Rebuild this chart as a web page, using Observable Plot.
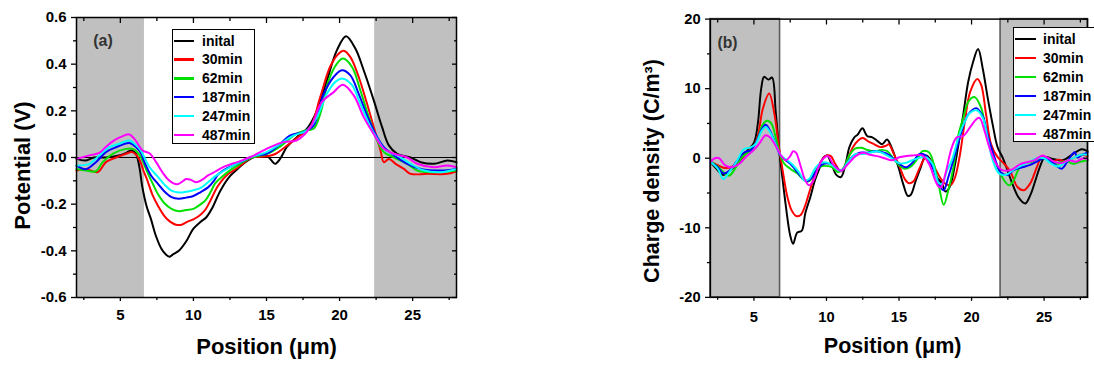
<!DOCTYPE html>
<html><head><meta charset="utf-8">
<script src="https://cdn.jsdelivr.net/npm/d3@7"></script>
<script src="https://cdn.jsdelivr.net/npm/@observablehq/plot@0.6"></script>
<style>
html,body{margin:0;padding:0;background:#fff;overflow:hidden;}
#root{position:relative;width:1094px;height:367px;overflow:hidden;}
.panel{position:absolute;top:0;}
.legend{position:absolute;background:#fff;border:1px solid #000;box-sizing:border-box;font:bold 14px Arial,"Liberation Sans",sans-serif;color:#000;}
.legend .row{position:absolute;left:0;height:18px;line-height:18px;white-space:nowrap;}
.legend .sw{position:absolute;top:8px;height:2.5px;}
.legend .lb{position:absolute;top:0;}
</style></head><body><div id="root"></div>
<script>
// ---------- data ----------
const seriesNames = ["inital","30min","62min","187min","247min","487min"];
const seriesColors = ["#000000","#ff0000","#00e000","#0000ff","#00ffff","#ff00ff"];

const xTicks = [5,10,15,20,25];
const xMinor = [2.5,7.5,12.5,17.5,22.5,27.5];
const yTicksA = [-0.6,-0.4,-0.2,0,0.2,0.4,0.6];
const yMinorA = [-0.5,-0.3,-0.1,0.1,0.3,0.5];
const yTicksB = [-20,-10,0,10,20];
const yMinorB = [-15,-5,5,15];
const shadeA = [[2,6.65],[22.4,28]];
const shadeB = [[2,6.8],[22,28]];

// Panel (a): potential (V) vs position (µm)
const potInitial = [[2,-0.006],[2.6,-0.013],[3.2,0.0],[4,0.0],[4.9,0.009],[5.4,0.02],[5.75,0.03],[6.05,0.018],[6.3,-0.04],[6.5,-0.125],[6.8,-0.21],[7.1,-0.265],[7.4,-0.33],[7.8,-0.39],[8.1,-0.415],[8.35,-0.425],[8.6,-0.415],[9,-0.4],[9.5,-0.36],[10,-0.305],[10.5,-0.275],[10.9,-0.255],[11.3,-0.215],[11.7,-0.16],[12,-0.125],[12.5,-0.08],[13,-0.05],[13.5,-0.022],[14,-0.002],[14.5,0.006],[15,0.009],[15.3,-0.01],[15.58,-0.027],[15.93,-0.006],[16.38,0.044],[17.07,0.087],[17.76,0.123],[18.45,0.2],[19.13,0.33],[19.82,0.46],[20.44,0.52],[21.08,0.467],[21.65,0.374],[22.34,0.245],[22.91,0.13],[23.37,0.052],[23.94,0.016],[24.86,0.0],[25.55,-0.02],[26.46,-0.027],[27.38,-0.013],[28,-0.02]];
const pot30 = [[2,-0.056],[2.64,-0.049],[3.44,-0.063],[4.01,-0.02],[4.7,0.0],[5.39,0.016],[5.8,0.023],[6.1,0.01],[6.35,-0.015],[6.6,-0.06],[6.8,-0.09],[7.2,-0.16],[7.6,-0.21],[8,-0.25],[8.4,-0.275],[8.8,-0.288],[9.2,-0.288],[9.6,-0.275],[10,-0.265],[10.4,-0.25],[10.8,-0.225],[11.2,-0.18],[11.6,-0.13],[12,-0.095],[12.4,-0.07],[13,-0.045],[13.5,-0.02],[14,0.0],[15,0.005],[15.6,0.015],[16.38,0.05],[17.3,0.094],[18,0.13],[18.68,0.26],[19.36,0.39],[19.93,0.445],[20.28,0.457],[20.74,0.43],[21.31,0.345],[21.88,0.23],[22.34,0.13],[22.8,0.03],[23.03,-0.02],[23.37,-0.006],[23.83,-0.027],[24.4,-0.049],[24.86,-0.07],[26,-0.07],[27.38,-0.07],[28,-0.059]];
const pot62 = [[2,-0.049],[2.64,-0.056],[3.33,-0.059],[3.79,-0.02],[4.47,0.016],[5.39,0.037],[5.85,0.037],[6.2,0.02],[6.5,-0.01],[6.8,-0.056],[7.2,-0.11],[7.6,-0.16],[8,-0.195],[8.5,-0.22],[9,-0.23],[9.5,-0.225],[10,-0.22],[10.5,-0.2],[10.8,-0.185],[11.2,-0.145],[11.5,-0.11],[12,-0.08],[12.5,-0.055],[13,-0.035],[13.5,-0.015],[14,0.0],[15,0.015],[16,0.05],[17,0.1],[17.6,0.115],[18.22,0.123],[18.68,0.188],[19.25,0.33],[19.82,0.402],[20.23,0.424],[20.85,0.388],[21.42,0.288],[22,0.173],[22.57,0.073],[23.03,0.023],[23.72,0.0],[24.63,-0.027],[25.32,-0.056],[26.46,-0.063],[28,-0.056]];
const pot187 = [[2,-0.035],[2.64,-0.05],[3.33,-0.02],[4.01,0.023],[4.7,0.044],[5.62,0.062],[6.08,0.044],[6.4,0.02],[6.65,-0.02],[7.1,-0.077],[7.6,-0.115],[8,-0.145],[8.5,-0.17],[9,-0.177],[9.5,-0.172],[10,-0.165],[10.5,-0.148],[11,-0.128],[11.4,-0.1],[11.7,-0.072],[12.2,-0.05],[12.7,-0.035],[13.2,-0.02],[13.7,-0.005],[14.2,0.008],[15,0.016],[15.8,0.05],[16.6,0.094],[17.53,0.109],[18.22,0.137],[18.9,0.27],[19.59,0.345],[20.16,0.374],[20.74,0.352],[21.31,0.273],[21.88,0.18],[22.46,0.1],[23.03,0.044],[23.72,0.009],[24.63,-0.027],[25.55,-0.049],[26.92,-0.056],[28,-0.049]];
const pot247 = [[2,-0.034],[2.87,-0.027],[3.56,0.009],[4.24,0.044],[4.93,0.059],[5.62,0.073],[6.08,0.052],[6.4,0.03],[6.65,0.0],[7,-0.042],[7.6,-0.085],[8,-0.115],[8.5,-0.142],[9,-0.15],[9.5,-0.147],[10,-0.14],[10.5,-0.13],[11,-0.106],[11.5,-0.08],[12,-0.06],[12.5,-0.042],[13,-0.025],[13.5,-0.01],[14,0.004],[15,0.023],[16.84,0.094],[17.76,0.116],[18.45,0.173],[19.13,0.273],[19.71,0.324],[20.23,0.338],[20.85,0.31],[21.42,0.23],[22,0.145],[22.57,0.08],[23.14,0.03],[23.94,0.009],[24.86,-0.027],[25.78,-0.056],[26.92,-0.063],[28,-0.049]];
const pot487 = [[2,-0.006],[2.87,0.009],[3.56,0.02],[4,0.045],[4.5,0.07],[5,0.087],[5.6,0.099],[5.96,0.08],[6.53,0.03],[6.99,0.018],[7.45,-0.02],[7.8,-0.056],[8.2,-0.09],[8.6,-0.11],[8.9,-0.115],[9.2,-0.105],[9.5,-0.092],[9.8,-0.095],[10.2,-0.106],[10.6,-0.095],[11,-0.077],[11.5,-0.06],[12,-0.042],[12.5,-0.03],[13,-0.02],[13.5,-0.008],[14,0.005],[15,0.037],[16.15,0.066],[17.07,0.073],[18,0.13],[18.79,0.238],[19.59,0.28],[20.23,0.312],[20.97,0.266],[21.65,0.173],[22.34,0.1],[23.03,0.037],[23.72,0.016],[24.63,0.0],[25.32,-0.027],[26.46,-0.042],[27.38,-0.034],[28,-0.042]];

// Panel (b): charge density (C/m³) vs position (µm)
const chgInitial = [[2,-0.5],[2.4,-1.5],[2.88,-2.4],[3.5,-1.5],[4,-0.5],[4.5,1.0],[5,2.2],[5.27,5.0],[5.5,10.0],[5.7,11.7],[6.0,11.3],[6.25,11.6],[6.5,6.7],[6.74,1.1],[6.9,-1.7],[7.2,-6.9],[7.5,-11.1],[7.7,-12.3],[7.98,-10.7],[8.3,-10.4],[8.54,-7.9],[8.9,-5.5],[9.2,-3.2],[9.55,-1.3],[9.78,0.1],[10.05,0.4],[10.34,-0.8],[10.68,-2.4],[11.0,-2.7],[11.3,-1.0],[11.58,1.6],[11.92,3.0],[12.15,3.4],[12.48,4.3],[12.8,3.2],[13.16,3.0],[13.5,2.5],[13.84,2.0],[14.17,2.7],[14.5,1.5],[14.96,-1.3],[15.3,-3.8],[15.6,-5.4],[15.8,-5.3],[16.16,-3.2],[16.5,-1.3],[16.84,0.4],[17.2,-0.3],[17.6,-2.7],[17.96,-3.6],[18.2,-4.8],[18.5,-4.1],[18.87,-0.8],[19.1,2.0],[19.43,6.3],[19.77,11.0],[20.1,13.8],[20.45,15.7],[20.78,12.8],[21.12,8.6],[21.46,4.8],[21.8,1.55],[22.13,0.15],[22.47,-1.7],[22.8,-3.6],[23.26,-5.7],[23.7,-6.5],[24.05,-5.3],[24.4,-3.2],[24.7,-1.3],[25.06,0.15],[25.6,-0.1],[26.3,-0.3],[26.98,0.6],[27.6,1.3],[28,1.0]];
const chg30 = [[2,-0.5],[2.5,-1.0],[3,-1.4],[3.5,-1.2],[4,-0.3],[4.5,0.8],[5,1.8],[5.3,3.5],[5.6,7.0],[6.05,9.3],[6.4,6.5],[6.7,2.0],[7.0,-2.0],[7.3,-5.5],[7.6,-7.5],[7.9,-8.3],[8.2,-8.2],[8.5,-7.0],[8.8,-5.0],[9.1,-3.0],[9.4,-1.3],[9.7,-0.2],[10.0,0.4],[10.3,0.3],[10.6,-0.8],[11.0,-1.9],[11.4,-0.5],[11.8,1.5],[12.2,2.6],[12.5,2.9],[12.9,2.4],[13.3,2.0],[13.7,1.6],[14.1,1.8],[14.3,2.0],[14.6,0.8],[15.0,-1.0],[15.4,-3.0],[15.7,-3.6],[16.0,-3.3],[16.4,-1.5],[16.8,0.0],[17.1,-0.2],[17.5,-1.5],[17.9,-3.0],[18.3,-3.8],[18.6,-3.8],[18.87,-2.7],[19.2,0.5],[19.55,5.5],[19.9,9.5],[20.4,11.4],[20.67,10.5],[21.0,6.3],[21.35,2.0],[21.8,0.15],[22.25,-0.8],[22.7,-2.0],[23.15,-4.1],[23.6,-4.6],[24.05,-3.6],[24.5,-1.3],[24.85,0.15],[25.5,-0.5],[26,-0.2],[26.5,-0.5],[27,0.0],[27.5,0.5],[28,0.3]];
const chg62 = [[2,-0.5],[2.5,-1.2],[3,-2.2],[3.3,-2.5],[3.7,-1.5],[4.2,0.2],[4.7,1.0],[5.2,2.5],[5.6,4.8],[5.9,5.4],[6.2,5.0],[6.5,3.0],[6.8,0.5],[7.1,-0.8],[7.5,-1.5],[8,-2.2],[8.5,-3.2],[8.8,-3.3],[9.2,-2.0],[9.6,-1.2],[10.0,-1.1],[10.4,-1.3],[10.8,-2.0],[11.2,-1.3],[11.6,0.5],[12.0,1.4],[12.4,1.5],[12.8,1.2],[13.3,1.0],[13.8,1.2],[14.2,1.0],[14.6,0.0],[15.0,-1.0],[15.37,-1.5],[15.8,-1.2],[16.3,0.0],[16.6,1.0],[17.06,0.85],[17.4,-0.8],[17.74,-3.9],[18.08,-6.7],[18.4,-4.6],[18.75,-1.3],[19.1,3.4],[19.43,5.8],[19.77,8.1],[20.2,8.8],[20.67,7.2],[21.0,3.9],[21.35,1.1],[21.8,-1.3],[22.25,-3.2],[22.6,-3.9],[22.9,-3.2],[23.26,-1.5],[23.6,-0.8],[24.2,-0.5],[24.6,0.0],[25,0.0],[25.5,-0.5],[26,-0.8],[26.5,-0.4],[27,-0.8],[27.5,-0.5],[28,-0.3]];
const chg187 = [[2,-0.5],[2.5,-1.3],[2.9,-2.2],[3.3,-1.8],[3.8,-0.5],[4.3,0.8],[4.8,1.2],[5.2,2.5],[5.5,4.0],[5.8,4.8],[6.1,4.0],[6.5,2.0],[6.8,0.5],[7.2,-0.3],[7.6,-1.0],[8.0,-2.0],[8.4,-3.0],[8.7,-3.3],[9.0,-2.8],[9.4,-1.5],[9.8,-0.8],[10.2,-0.8],[10.6,-1.2],[11.0,-1.8],[11.4,-0.8],[11.8,0.3],[12.3,0.8],[12.8,0.8],[13.3,1.0],[13.8,0.9],[14.3,0.5],[14.7,-0.3],[15.03,-0.8],[15.48,-1.3],[15.9,-0.7],[16.4,0.6],[16.84,0.4],[17.3,-1.3],[17.85,-4.1],[18.08,-4.6],[18.4,-2.7],[18.87,0.6],[19.32,3.9],[19.77,6.3],[20.33,7.2],[20.78,6.0],[21.1,3.4],[21.58,0.15],[22.0,-2.0],[22.47,-2.4],[22.9,-1.7],[23.5,-1.3],[24,-1.0],[24.5,-0.5],[25,0.0],[25.5,-0.5],[26.2,-1.5],[26.6,-0.5],[27.1,0.85],[27.3,0.1],[27.6,0.5],[28,0.8]];
const chg247 = [[2,-0.5],[2.5,-1.5],[2.9,-3.0],[3.3,-2.0],[3.8,-0.5],[4.3,1.3],[4.7,1.5],[5.1,2.0],[5.5,3.8],[5.8,4.5],[6.1,3.8],[6.5,2.0],[6.9,0.3],[7.3,-0.3],[7.7,-1.0],[8.1,-2.0],[8.5,-3.2],[8.8,-3.0],[9.2,-1.5],[9.6,-0.7],[10.0,-0.6],[10.5,-1.2],[11.0,-1.8],[11.5,-0.5],[12.0,0.6],[12.5,0.6],[13.0,0.8],[13.5,1.0],[14.0,0.6],[14.5,0.0],[15.0,-0.7],[15.4,-0.7],[16.16,-0.1],[16.84,0.15],[17.3,-0.8],[17.74,-3.6],[18.0,-3.6],[18.3,-1.8],[18.64,-0.3],[19.1,3.0],[19.43,4.8],[19.88,6.5],[20.35,6.9],[20.78,5.8],[21.12,2.7],[21.46,-0.3],[21.9,-2.2],[22.35,-2.4],[23.0,-1.5],[23.5,-1.0],[24,-0.5],[24.5,0.0],[25,0.0],[25.5,-0.8],[26,-1.2],[26.5,-0.5],[27,0.0],[27.5,0.5],[28,0.5]];
const chg487 = [[2,-0.5],[2.3,0.0],[2.6,0.0],[3.0,-1.0],[3.5,-1.3],[4.0,-0.8],[4.5,0.3],[5.0,1.2],[5.4,2.2],[5.8,3.3],[6.1,3.0],[6.5,1.8],[6.9,0.3],[7.2,-0.3],[7.5,0.3],[7.7,1.0],[7.9,0.8],[8.2,-1.0],[8.5,-3.0],[8.8,-3.9],[9.1,-3.2],[9.5,-1.0],[9.8,0.0],[10.1,0.3],[10.5,-1.0],[11.0,-1.8],[11.5,-0.8],[12.0,0.3],[12.5,0.8],[13.0,0.5],[13.5,0.3],[14.0,0.0],[14.5,-0.3],[15.03,0.15],[15.94,0.4],[16.6,0.4],[17.06,-0.8],[17.5,-3.2],[17.74,-4.1],[17.9,-4.2],[18.2,-2.2],[18.64,1.55],[18.98,3.0],[19.43,3.2],[19.88,4.4],[20.33,5.6],[20.55,5.8],[20.9,3.9],[21.23,1.55],[21.7,-0.8],[22.1,-1.7],[22.7,-1.7],[23.4,-0.8],[24.3,-0.3],[24.9,0.4],[25.3,0.0],[25.7,-0.5],[26.2,-0.7],[26.7,-0.3],[27.2,-0.5],[27.7,0.0],[28,-0.2]];

const potSeries = [potInitial,pot30,pot62,pot187,pot247,pot487];
const chgSeries = [chgInitial,chg30,chg62,chg187,chg247,chg487];

// ---------- drawing ----------
const FONT = "Arial, 'Liberation Sans', sans-serif";
const root = document.getElementById("root");
const tickFont = {fontSize: 15, fontWeight: "bold", fill: "#000"};

function makePanel(cfg) {
  const lines = cfg.series.map((s, i) => Plot.line(s, {
    x: d => d[0], y: d => d[1], stroke: seriesColors[i], strokeWidth: 2, curve: "catmull-rom"
  }));
  const marks = [
    Plot.rect(cfg.shade, {x1: d => d[0], x2: d => d[1], fill: "#c0c0c0",
      stroke: cfg.shadeStroke || "none", strokeWidth: 1.6}),
    ...(cfg.zeroLine ? [Plot.ruleY([0], {stroke: "#000", strokeWidth: 1.2})] : []),
    ...lines,
    Plot.frame({stroke: "#000", strokeWidth: 1.5}),
    Plot.axisY(cfg.yTicks, {tickSize: 5, tickPadding: 5, tickFormat: cfg.yFormat, label: null, strokeWidth: 1.3, ...tickFont}),
    Plot.axisY(cfg.yMinor, {tickSize: 3, text: null, label: null, strokeWidth: 1.3}),
    Plot.axisY(cfg.yTicks, {anchor: "right", tickSize: -5, text: null, label: null, strokeWidth: 1.3}),
    Plot.axisY(cfg.yMinor, {anchor: "right", tickSize: -3, text: null, label: null, strokeWidth: 1.3}),
    Plot.axisX(xTicks, {tickSize: 4, tickPadding: cfg.xPad, tickFormat: d => String(d), label: null, strokeWidth: 1.3, ...tickFont}),
    Plot.axisX(xMinor, {tickSize: 3, text: null, label: null, strokeWidth: 1.3}),
    Plot.axisX(xTicks, {anchor: "top", tickSize: -5, text: null, label: null, strokeWidth: 1.3}),
    Plot.axisX(xMinor, {anchor: "top", tickSize: -3, text: null, label: null, strokeWidth: 1.3}),
    Plot.text([cfg.yTitle], {text: d => d, frameAnchor: "left", dx: cfg.yTitleDx, dy: cfg.yTitleDy,
      rotate: -90, textAnchor: "middle", lineAnchor: "middle", fontSize: 22, fontWeight: "bold", fill: "#000"}),
    Plot.text([cfg.xTitle], {text: d => d, frameAnchor: "bottom", dx: cfg.xTitleDx, dy: cfg.xTitleDy,
      textAnchor: "middle", lineAnchor: "middle", fontSize: 22, fontWeight: "bold", fill: "#000"}),
    Plot.text([cfg.tag], {text: d => d, frameAnchor: "top-left", dx: cfg.tagDx, dy: cfg.tagDy,
      textAnchor: "middle", lineAnchor: "middle", fontSize: 16, fontWeight: "bold", fill: "#333"})
  ];
  const svg = Plot.plot({
    width: cfg.width, height: 367,
    marginLeft: cfg.ml, marginRight: cfg.mr, marginTop: cfg.mt, marginBottom: cfg.mb,
    x: {domain: [2, 28]},
    y: {domain: cfg.yDomain},
    style: {fontFamily: FONT, fontSize: "15px", fontWeight: "bold", color: "#000", background: "transparent", overflow: "visible"},
    marks
  });
  const wrap = document.createElement("div");
  wrap.className = "panel";
  wrap.style.left = cfg.left + "px";
  wrap.appendChild(svg);
  root.appendChild(wrap);
}

makePanel({
  left: 0, width: 560, ml: 76, mr: 104, mt: 17, mb: 70,
  yDomain: [-0.6, 0.6], yTicks: yTicksA, yMinor: yMinorA, yFormat: d => d.toFixed(1),
  series: potSeries, shade: shadeA, zeroLine: true, xPad: 8,
  yTitle: "Potential (V)", yTitleDx: -54, yTitleDy: 8,
  xTitle: "Position (μm)", xTitleDx: 0, xTitleDy: 49,
  tag: "(a)", tagDx: 26.5, tagDy: 23
});
makePanel({
  left: 560, width: 545, ml: 153, mr: 7, mt: 19, mb: 64,
  yDomain: [-20, 20], yTicks: yTicksB, yMinor: yMinorB, yFormat: d => String(d),
  series: chgSeries, shade: shadeB, shadeStroke: "#5a5a5a", zeroLine: false, xPad: 10,
  yTitle: "Charge density (C/m³)", yTitleDx: -60, yTitleDy: 13,
  xTitle: "Position (μm)", xTitleDx: -6.5, xTitleDy: 50,
  tag: "(b)", tagDx: 17.5, tagDy: 24
});

function makeLegend(left, top, width, height, rowTop, rowStep, swLeft, swWidth, textLeft) {
  const box = document.createElement("div");
  box.className = "legend";
  Object.assign(box.style, {left: left + "px", top: top + "px", width: width + "px", height: height + "px"});
  seriesNames.forEach((name, i) => {
    const row = document.createElement("div");
    row.className = "row";
    row.style.top = (rowTop + i * rowStep - 9) + "px";
    const sw = document.createElement("span");
    sw.className = "sw";
    Object.assign(sw.style, {left: swLeft + "px", width: swWidth + "px", background: seriesColors[i]});
    const lb = document.createElement("span");
    lb.className = "lb";
    lb.style.left = textLeft + "px";
    lb.textContent = name;
    row.appendChild(sw); row.appendChild(lb);
    box.appendChild(row);
  });
  root.appendChild(box);
}
makeLegend(172, 29, 83, 115, 10.5, 18.8, 1, 20, 29);
makeLegend(1013, 27, 100, 115, 10.5, 19, 1, 21, 29);
</script></body></html>
